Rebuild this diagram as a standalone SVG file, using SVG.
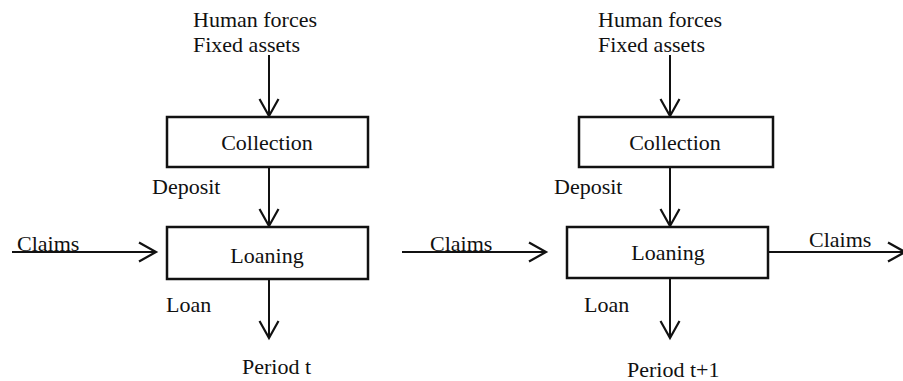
<svg xmlns="http://www.w3.org/2000/svg" width="903" height="381" viewBox="0 0 903 381">
<style>
text{font-size:22px;fill:#111}
.box{fill:#fff;stroke:#111;stroke-width:2.5}
.c{text-anchor:middle}
.ln{stroke:#111;stroke-width:2;fill:none}
</style>
<defs>
<marker id="ah" viewBox="-20 -11 22 22" refX="0" refY="0" markerWidth="22" markerHeight="22" markerUnits="userSpaceOnUse" orient="auto" overflow="visible">
<path d="M-17,-9.5 L0,0 L-17,9.5" fill="none" stroke="#111" stroke-width="2.2"/>
</marker>
</defs>
<rect width="903" height="381" fill="#fff"/>
<g id="connectors">
<line class="ln" x1="269" y1="55" x2="269" y2="116" marker-end="url(#ah)"/>
<line class="ln" x1="269" y1="167" x2="269" y2="226" marker-end="url(#ah)"/>
<line class="ln" x1="12" y1="252" x2="156" y2="252" marker-end="url(#ah)"/>
<line class="ln" x1="269" y1="279" x2="269" y2="338" marker-end="url(#ah)"/>
<line class="ln" x1="402" y1="252" x2="546" y2="252" marker-end="url(#ah)"/>
<line class="ln" x1="670" y1="55" x2="670" y2="116" marker-end="url(#ah)"/>
<line class="ln" x1="670" y1="167" x2="670" y2="226" marker-end="url(#ah)"/>
<line class="ln" x1="768" y1="252" x2="905" y2="252" marker-end="url(#ah)"/>
<line class="ln" x1="670" y1="278" x2="670" y2="338" marker-end="url(#ah)"/>
</g>
<g font-family="Liberation Serif, Times New Roman, serif">
<g id="inputs-t">
<text x="193" y="27">Human forces</text>
<text x="193" y="52">Fixed assets</text>
</g>
<g id="collection-t">
<rect class="box" x="167" y="117" width="201" height="50"/>
<text class="c" x="267" y="150">Collection</text>
</g>
<text x="152" y="194">Deposit</text>
<text x="17" y="251">Claims</text>
<g id="loaning-t">
<rect class="box" x="167" y="227" width="201" height="52"/>
<text class="c" x="267" y="263">Loaning</text>
</g>
<text x="166" y="312">Loan</text>
<g id="period-t"><text x="242" y="374">Period t</text></g>
<text x="430" y="251">Claims</text>
<g id="inputs-t1">
<text x="598" y="27">Human forces</text>
<text x="598" y="52">Fixed assets</text>
</g>
<g id="collection-t1">
<rect class="box" x="579" y="117" width="194" height="50"/>
<text class="c" x="675" y="150">Collection</text>
</g>
<text x="554" y="194">Deposit</text>
<g id="loaning-t1">
<rect class="box" x="567" y="227" width="201" height="51"/>
<text class="c" x="668" y="260">Loaning</text>
</g>
<text x="809" y="247">Claims</text>
<text x="584" y="312">Loan</text>
<g id="period-t1"><text x="627" y="377">Period t+1</text></g>
</g>
</svg>
